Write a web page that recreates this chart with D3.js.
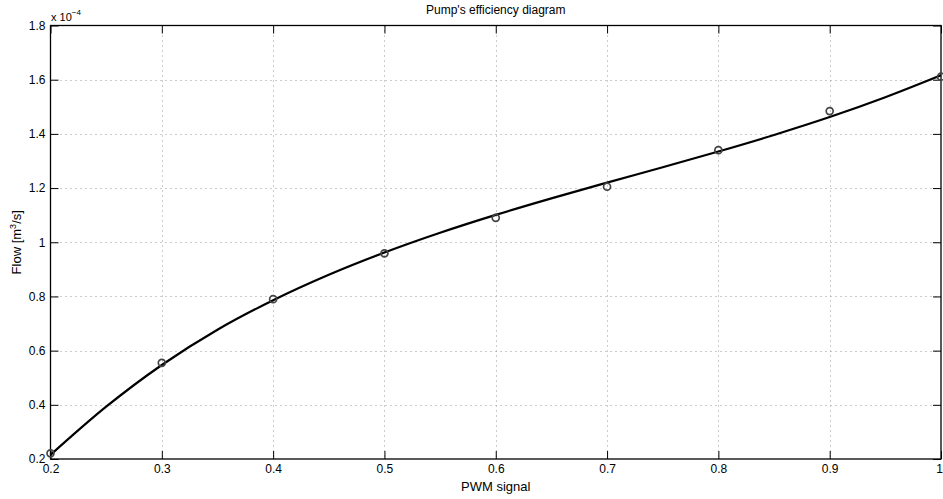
<!DOCTYPE html>
<html>
<head>
<meta charset="utf-8">
<script src="https://cdn.jsdelivr.net/npm/d3@7"></script>
<style>
  body { margin: 0; background: #fff; }
  text { font-family: "Liberation Sans", Arial, sans-serif; fill: #000; }
</style>
</head>
<body>
<svg width="943" height="499"></svg>
<script>
// measured points (flow in 1e-4 m^3/s)
const pwm = [0.2, 0.3, 0.4, 0.5, 0.6, 0.7, 0.8, 0.9, 1.0];
const flow = [0.221, 0.555, 0.79, 0.959, 1.09, 1.205, 1.34, 1.484, 1.611];

// fitted curve
const fitX = [0.2, 0.25, 0.3, 0.35, 0.4, 0.45, 0.5, 0.55, 0.6, 0.65, 0.7, 0.75, 0.8, 0.85, 0.9, 0.95, 1.0];
const fitY = [0.215, 0.393, 0.547, 0.677, 0.786, 0.880, 0.962, 1.035, 1.101, 1.162, 1.220, 1.277, 1.335, 1.396, 1.462, 1.535, 1.616];

const xTicks = [0.2, 0.3, 0.4, 0.5, 0.6, 0.7, 0.8, 0.9, 1];
const yTicks = [0.2, 0.4, 0.6, 0.8, 1, 1.2, 1.4, 1.6, 1.8];

const svg = d3.select('svg');
const plotL = 50.5, plotR = 941, plotT = 25.5, plotB = 459;

const x = d3.scaleLinear().domain([0.2, 1]).range([plotL, plotR]);
const y = d3.scaleLinear().domain([0.2, 1.8]).range([plotB, plotT]);

// dotted grid
const grid = svg.append('g')
  .attr('stroke', '#999')
  .attr('stroke-width', 1)
  .attr('stroke-dasharray', '1,4');
grid.selectAll('.gx').data(xTicks.slice(1, -1)).enter().append('line')
  .attr('x1', d => Math.round(x(d)) + 0.5).attr('x2', d => Math.round(x(d)) + 0.5)
  .attr('y1', plotT).attr('y2', plotB);
grid.selectAll('.gy').data(yTicks.slice(1, -1)).enter().append('line')
  .attr('y1', d => Math.round(y(d)) + 0.5).attr('y2', d => Math.round(y(d)) + 0.5)
  .attr('x1', plotL).attr('x2', plotR);

// axes with inward ticks, box style
const tickLen = 8;
svg.append('g').attr('transform', `translate(0,${plotB})`)
  .call(d3.axisBottom(x).tickValues(xTicks).tickSizeInner(-tickLen).tickSizeOuter(0).tickPadding(5).tickFormat(d3.format('')))
  .call(g => g.select('.domain').remove())
  .call(g => g.selectAll('.tick:last-of-type text').attr('dx', -2));
svg.append('g').attr('transform', `translate(0,${plotT})`)
  .call(d3.axisTop(x).tickValues(xTicks).tickSizeInner(-tickLen).tickSizeOuter(0).tickFormat(''))
  .call(g => g.select('.domain').remove());
svg.append('g').attr('transform', `translate(${plotL},0)`)
  .call(d3.axisLeft(y).tickValues(yTicks).tickSizeInner(-tickLen).tickSizeOuter(0).tickPadding(5).tickFormat(d3.format('')))
  .call(g => g.select('.domain').remove());
svg.append('g').attr('transform', `translate(${plotR},0)`)
  .call(d3.axisRight(y).tickValues(yTicks).tickSizeInner(-tickLen).tickSizeOuter(0).tickFormat(''))
  .call(g => g.select('.domain').remove());

svg.selectAll('.tick text').attr('font-size', 12).style('font-family', '"Liberation Sans", Arial, sans-serif');
svg.selectAll('.tick line').attr('stroke', '#000');

svg.append('rect')
  .attr('x', plotL).attr('y', plotT)
  .attr('width', plotR - plotL).attr('height', plotB - plotT)
  .attr('fill', 'none').attr('stroke', '#000').attr('stroke-width', 1.3);

// fitted line
const line = d3.line().x(d => x(d[0])).y(d => y(d[1])).curve(d3.curveCatmullRom);
svg.append('path')
  .datum(fitX.map((v, i) => [v, fitY[i]]))
  .attr('d', line)
  .attr('fill', 'none')
  .attr('stroke', '#000')
  .attr('stroke-width', 2.2);

// measured markers
svg.selectAll('.pt').data(pwm).enter().append('circle')
  .attr('cx', d => x(d))
  .attr('cy', (d, i) => y(flow[i]))
  .attr('r', 3.5)
  .attr('fill', 'none')
  .attr('stroke', '#444')
  .attr('stroke-width', 1.7);

// labels
svg.append('text').attr('x', (plotL + plotR) / 2).attr('y', 14)
  .attr('text-anchor', 'middle').attr('font-size', 12)
  .text("Pump's efficiency diagram");
svg.append('text').attr('x', (plotL + plotR) / 2).attr('y', 491)
  .attr('text-anchor', 'middle').attr('font-size', 13)
  .text('PWM signal');

const yl = svg.append('text')
  .attr('transform', `translate(21,${(plotT + plotB) / 2}) rotate(-90)`)
  .attr('text-anchor', 'middle').attr('font-size', 13);
yl.append('tspan').text('Flow [m');
yl.append('tspan').attr('dy', -5).attr('font-size', 9).text('3');
yl.append('tspan').attr('dy', 5).text('/s]');

const ex = svg.append('text').attr('x', 51).attr('y', 21).attr('font-size', 11);
ex.append('tspan').text('x 10');
ex.append('tspan').attr('dy', -6).attr('font-size', 8).text('−4');
</script>
</body>
</html>
